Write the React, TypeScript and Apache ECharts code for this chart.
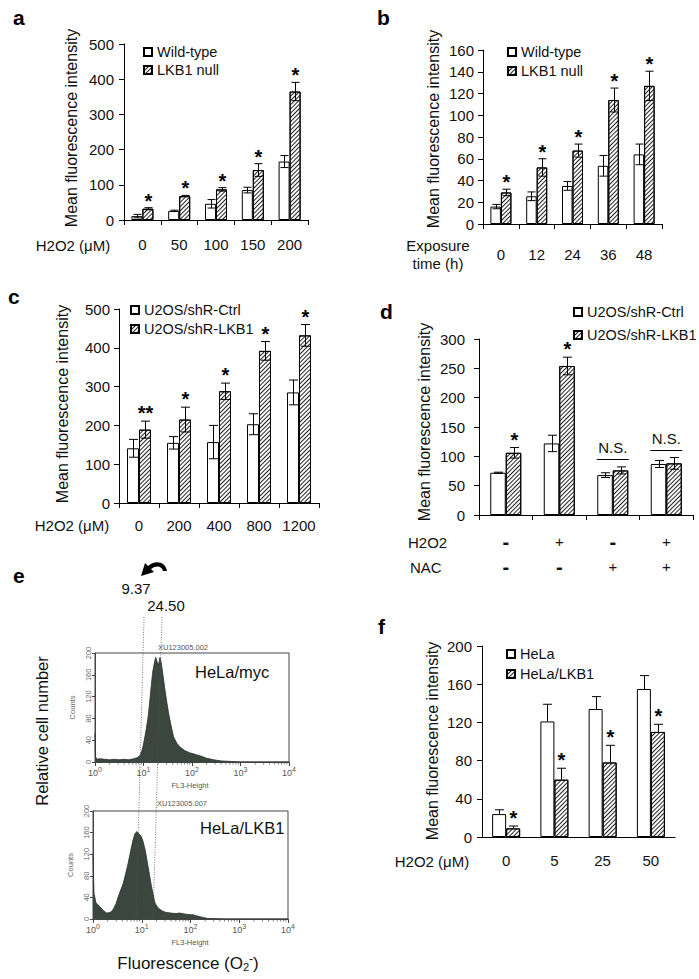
import React, { useEffect, useRef } from 'react';
import * as echarts from 'echarts';

const FONT = '"Liberation Sans", Arial, Helvetica, sans-serif';

// ---- Panel a ----
const aCats = ['0', '50', '100', '150', '200'];
const aWT = [11, 26, 46, 85, 166];
const aWTErr = [5, 2, 12, 8, 17];
const aKO = [32, 68, 87, 142, 365];
const aKOErr = [3, 2, 5, 18, 26];
const aSig = ['*', '*', '*', '*', '*'];

// ---- Panel b ----
const bCats = ['0', '12', '24', '36', '48'];
const bWT = [16, 25.5, 35, 53.5, 64];
const bWTErr = [2, 4, 4, 9.5, 9.5];
const bKO = [29, 52, 67.5, 114, 127];
const bKOErr = [3, 8, 6, 11, 13.5];
const bSig = ['*', '*', '*', '*', '*'];

// ---- Panel c ----
const cCats = ['0', '200', '400', '800', '1200'];
const cCtrl = [141, 155, 157, 203, 285];
const cCtrlErr = [23, 16, 43, 27, 32];
const cKD = [189, 215, 288, 392, 432];
const cKDErr = [22, 32, 21, 24, 28];
const cSig = ['**', '*', '*', '*', '*'];

// ---- Panel d ----
const dH2O2 = ['-', '+', '-', '+'];
const dNAC = ['-', '-', '+', '+'];
const dCtrl = [72, 122, 68, 87];
const dCtrlErr = [1, 14, 4, 6];
const dKD = [106, 254, 76, 88];
const dKDErr = [9, 15, 6, 10];
const dSig = ['*', '*', 'N.S.', 'N.S.'];

// ---- Panel f ----
const fCats = ['0', '5', '25', '50'];
const fHeLa = [24, 121, 134, 155];
const fHeLaErr = [4.5, 18, 13, 14];
const fLKB1 = [9, 60, 78, 110];
const fLKB1Err = [2.5, 12, 18, 8];
const fSig = ['*', '*', '*', '*'];

// ---- Panel e (flow histograms, x in log10 units) ----
const mycLog = [0, 0.01, 0.04, 0.1, 0.2, 0.3, 0.4, 0.5, 0.6, 0.7, 0.8, 0.87, 0.93, 0.98, 1.02, 1.06, 1.1, 1.13, 1.16, 1.19, 1.22, 1.25, 1.28, 1.31, 1.34, 1.37, 1.4, 1.44, 1.48, 1.52, 1.57, 1.62, 1.69, 1.76, 1.85, 1.95, 2.03, 2.1, 2.18, 2.3, 2.45, 2.6, 2.8, 3.0, 3.5, 4.0];
const mycCounts = [52, 10, 5, 6, 5, 4, 5, 4, 5, 4, 6, 8, 12, 24, 42, 62, 86, 112, 140, 165, 180, 192, 184, 178, 192, 180, 160, 134, 110, 88, 66, 46, 34, 27, 21, 17, 15, 13, 11, 7, 4, 2, 1, 0, 0, 0];
const lkbLog = [0, 0.02, 0.06, 0.14, 0.22, 0.28, 0.35, 0.41, 0.47, 0.52, 0.57, 0.62, 0.67, 0.72, 0.77, 0.82, 0.86, 0.9, 0.94, 0.98, 1.02, 1.07, 1.13, 1.2, 1.27, 1.32, 1.37, 1.44, 1.51, 1.6, 1.7, 1.78, 1.9, 2.0, 2.05, 2.12, 2.2, 2.26, 2.35, 2.5, 2.7, 3.0, 3.5, 4.0];
const lkbCounts = [119, 48, 30, 23, 15, 11, 12, 17, 28, 42, 54, 66, 84, 103, 125, 146, 158, 162, 158, 154, 146, 128, 97, 60, 30, 22, 18, 14, 12, 11, 10, 11, 9, 8, 8, 6, 4, 3, 1, 0.5, 0, 0, 0, 0];
const mfiLabels = ['9.37', '24.50'];
const histTicks = [0, 1, 2, 3, 4];
const minorMult = [2, 3, 4, 5, 6, 7, 8, 9];

echarts.graphic.registerShape(
  'curvedArrow',
  echarts.graphic.extendPath('M 28 10 C 27 1, 16 -2, 9 5 L 6 2 L 2 15 L 15 11 L 12 8 C 17 4, 23 5, 24 10 Z', {})
);

const HATCH: any = {
  symbol: 'rect',
  symbolSize: 1,
  dashArrayX: [1, 0],
  dashArrayY: [0.8, 2.0],
  rotation: -Math.PI / 4,
  color: '#222',
};

const whiteStyle = { color: '#fff', borderColor: '#000', borderWidth: 1 };
const hatchStyle = { color: '#fff', borderColor: '#000', borderWidth: 1, decal: HATCH };

function yAxisBar(gi: number, max: number, interval: number, margin: number) {
  return {
    type: 'value', gridIndex: gi, min: 0, max, interval,
    axisLine: { show: true, lineStyle: { color: '#000', width: 1 } },
    axisTick: { show: true, length: 5, lineStyle: { color: '#000' } },
    splitLine: { show: false },
    axisLabel: { fontSize: 15, color: '#111', margin, fontFamily: FONT },
  };
}

function xAxisBar(gi: number, cats: string[], margin: number, ticks: boolean) {
  return {
    type: 'category', gridIndex: gi, data: cats,
    axisLine: { show: true, lineStyle: { color: '#000', width: 1 } },
    axisTick: { show: ticks, length: 5, interval: 0, lineStyle: { color: '#000' } },
    axisLabel: { fontSize: 15, color: '#111', margin, interval: 0, fontFamily: FONT },
  };
}

function errBars(idx: number, vals: number[], errs: number[], side: number, barW: number, capW: number, upOnly: boolean, sig: string[] | null, starGap: number) {
  return {
    type: 'custom', xAxisIndex: idx, yAxisIndex: idx, z: 5, silent: true, clip: false,
    data: vals.map((v, i) => [i, v, errs[i]]),
    renderItem: (params: any, api: any) => {
      const i = api.value(0);
      const v = api.value(1);
      const e = api.value(2);
      const c = api.coord([i, v]);
      const t = api.coord([i, v + e]);
      const b = api.coord([i, upOnly ? v : v - e]);
      const x = Math.round(c[0] + (side * barW) / 2) + 0.5;
      const st = { stroke: '#000', lineWidth: 1 };
      const children: any[] = [
        { type: 'line', shape: { x1: x, y1: t[1], x2: x, y2: b[1] }, style: st },
        { type: 'line', shape: { x1: x - capW / 2, y1: t[1], x2: x + capW / 2, y2: t[1] }, style: st },
      ];
      if (!upOnly) children.push({ type: 'line', shape: { x1: x - capW / 2, y1: b[1], x2: x + capW / 2, y2: b[1] }, style: st });
      if (sig && sig[i] && sig[i] !== 'N.S.') {
        children.push({
          type: 'text', x, y: t[1] - starGap,
          style: { text: sig[i], fontSize: 20, fontWeight: 'bold', fill: '#000', align: 'center', verticalAlign: 'middle', fontFamily: FONT },
        });
      }
      return { type: 'group', children };
    },
  };
}

function nsSeries() {
  return {
    type: 'custom', xAxisIndex: 3, yAxisIndex: 3, z: 6, silent: true, clip: false,
    data: dSig.map((s, i) => [i, Math.max(dCtrl[i] + dCtrlErr[i], dKD[i] + dKDErr[i])]),
    renderItem: (params: any, api: any) => {
      const i = api.value(0);
      const top = api.value(1);
      const c = api.coord([i, top]);
      if (dSig[i] !== 'N.S.') return { type: 'group', children: [] };
      const ly = Math.round(c[1] - 8) + 0.5;
      return {
        type: 'group',
        children: [
          { type: 'line', shape: { x1: c[0] - 16, y1: ly, x2: c[0] + 16, y2: ly }, style: { stroke: '#000', lineWidth: 1 } },
          { type: 'text', x: c[0], y: ly - 12, style: { text: dSig[i], fontSize: 15, fill: '#111', align: 'center', verticalAlign: 'middle', fontFamily: FONT } },
        ],
      };
    },
  };
}

function histX(gi: number) {
  return {
    type: 'value', gridIndex: gi, min: 0, max: 4, interval: 1,
    axisLine: { show: true, onZero: false, lineStyle: { color: '#444', width: 1 } },
    axisTick: { show: true, length: 4, lineStyle: { color: '#444' } },
    splitLine: { show: false },
    axisLabel: {
      margin: 4, fontSize: 9, color: '#555', fontFamily: FONT,
      formatter: (v: number) => `10{s|${v}}`,
      rich: { s: { fontSize: 7, color: '#555', padding: [0, 0, 7, 0] } },
    },
  };
}

function histY(gi: number) {
  return {
    type: 'value', gridIndex: gi, min: 0, max: 200, interval: 40,
    axisLine: { show: true, lineStyle: { color: '#444', width: 1 } },
    axisTick: { show: true, length: 3, lineStyle: { color: '#444' } },
    splitLine: { show: false },
    axisLabel: { rotate: 90, fontSize: 7.5, color: '#666', margin: 3, fontFamily: FONT },
    name: 'Counts', nameLocation: 'middle', nameGap: 19, nameRotate: 90,
    nameTextStyle: { fontSize: 7.5, color: '#666', fontFamily: FONT },
  };
}

function histSeries(gi: number, xs: number[], ys: number[]) {
  return {
    type: 'line', xAxisIndex: gi, yAxisIndex: gi, symbol: 'none', silent: true,
    data: xs.map((x, i) => [x, ys[i]]),
    lineStyle: { color: '#27302b', width: 0.8 },
    areaStyle: { color: '#3b463f', opacity: 1 },
  };
}

function minorTicks(gi: number) {
  const pts: number[][] = [];
  histTicks.slice(0, 4).forEach((d) => minorMult.forEach((m) => pts.push([d + Math.log10(m), 0])));
  return {
    type: 'custom', xAxisIndex: gi, yAxisIndex: gi, silent: true, clip: false, z: 4,
    data: pts,
    renderItem: (params: any, api: any) => {
      const p = api.coord([api.value(0), 0]);
      return { type: 'line', shape: { x1: p[0], y1: p[1], x2: p[0], y2: p[1] + 2.5 }, style: { stroke: '#444', lineWidth: 0.7 } };
    },
  };
}

function txt(text: string, x: number, y: number, opts: any = {}) {
  return {
    type: 'text', x, y, rotation: opts.rotation || 0, z: 10,
    style: {
      text, fontSize: opts.fontSize || 15, fontWeight: opts.fontWeight || 'normal',
      fill: opts.fill || '#111', align: opts.align || 'center', verticalAlign: 'middle', fontFamily: FONT,
      rich: opts.rich,
    },
  };
}

const letter = (t: string, x: number, y: number) => txt(t, x, y, { fontSize: 21, fontWeight: 'bold', align: 'left', fill: '#000' });
const yTitle = (x: number, y: number) => txt('Mean fluorescence intensity', x, y, { fontSize: 16, rotation: Math.PI / 2 });

function legendCfg(names: string[], left: number, top: number, gap: number) {
  return {
    left, top, orient: 'vertical', data: names, padding: 0,
    itemWidth: 8, itemHeight: 8, itemGap: gap, icon: 'rect', selectedMode: false,
    textStyle: { fontSize: 14.5, lineHeight: 15, color: '#111', fontFamily: FONT },
  };
}

export default function App() {
  const ref = useRef<HTMLDivElement>(null);
  useEffect(() => {
    if (!ref.current) return;
    const chart = echarts.init(ref.current, null, { renderer: 'svg' });
    const option: any = {
      animation: false,
      backgroundColor: '#fff',
      textStyle: { fontFamily: FONT },
      grid: [
        { left: 124, top: 44, width: 184, height: 176 },
        { left: 483, top: 50, width: 179, height: 174 },
        { left: 119, top: 309, width: 200, height: 194 },
        { left: 479, top: 339, width: 214, height: 176 },
        { left: 482, top: 646, width: 193, height: 191 },
        { left: 95, top: 653, width: 194, height: 109, show: true, borderColor: '#444', borderWidth: 1 },
        { left: 93, top: 811, width: 195, height: 108, show: true, borderColor: '#444', borderWidth: 1 },
      ],
      xAxis: [
        xAxisBar(0, aCats, 17, true),
        xAxisBar(1, bCats, 23, true),
        xAxisBar(2, cCats, 15, true),
        {
          ...xAxisBar(3, dH2O2.map((h, i) => h + '/' + dNAC[i]), 14, true),
          axisLabel: {
            margin: 14, interval: 0, fontFamily: FONT, color: '#111',
            formatter: (v: string, i: number) => {
              const f = (s: string) => (s === '-' ? `{m|${s}}` : `{p|${s}}`);
              return f(dH2O2[i]) + '\n' + f(dNAC[i]);
            },
            rich: {
              m: { fontSize: 20, fontWeight: 'bold', lineHeight: 25, color: '#111' },
              p: { fontSize: 15, lineHeight: 25, color: '#111' },
            },
          },
        },
        xAxisBar(4, fCats, 16, false),
        histX(5),
        histX(6),
      ],
      yAxis: [
        yAxisBar(0, 500, 100, 10),
        yAxisBar(1, 160, 20, 9),
        yAxisBar(2, 500, 100, 9),
        yAxisBar(3, 300, 50, 14),
        yAxisBar(4, 200, 40, 10),
        histY(5),
        histY(6),
      ],
      legend: [
        legendCfg(['Wild-type', 'LKB1 null'], 143, 44.5, 3),
        legendCfg(['Wild-type', 'LKB1 null'], 507, 44.5, 4),
        legendCfg(['U2OS/shR-Ctrl', 'U2OS/shR-LKB1'], 130, 302.5, 4),
        legendCfg(['U2OS/shR-Ctrl', 'U2OS/shR-LKB1'], 573, 304.5, 8),
        legendCfg(['HeLa', 'HeLa/LKB1'], 506, 646.5, 5),
      ],
      series: [
        // a
        { type: 'bar', name: 'Wild-type', xAxisIndex: 0, yAxisIndex: 0, data: aWT, barWidth: 11, barGap: '0%', itemStyle: whiteStyle },
        { type: 'bar', name: 'LKB1 null', xAxisIndex: 0, yAxisIndex: 0, data: aKO, barWidth: 11, barGap: '0%', itemStyle: hatchStyle },
        errBars(0, aWT, aWTErr, -1, 11, 8, false, null, 0),
        errBars(0, aKO, aKOErr, 1, 11, 8, false, aSig, 7),
        // b
        { type: 'bar', name: 'Wild-type', xAxisIndex: 1, yAxisIndex: 1, data: bWT, barWidth: 10.5, barGap: '0%', itemStyle: whiteStyle },
        { type: 'bar', name: 'LKB1 null', xAxisIndex: 1, yAxisIndex: 1, data: bKO, barWidth: 10.5, barGap: '0%', itemStyle: hatchStyle },
        errBars(1, bWT, bWTErr, -1, 10.5, 8, false, null, 0),
        errBars(1, bKO, bKOErr, 1, 10.5, 8, false, bSig, 7),
        // c
        { type: 'bar', name: 'U2OS/shR-Ctrl', xAxisIndex: 2, yAxisIndex: 2, data: cCtrl, barWidth: 12, barGap: '0%', itemStyle: whiteStyle },
        { type: 'bar', name: 'U2OS/shR-LKB1', xAxisIndex: 2, yAxisIndex: 2, data: cKD, barWidth: 12, barGap: '0%', itemStyle: hatchStyle },
        errBars(2, cCtrl, cCtrlErr, -1, 12, 9, false, null, 0),
        errBars(2, cKD, cKDErr, 1, 12, 9, false, cSig, 8),
        // d
        { type: 'bar', name: 'U2OS/shR-Ctrl', xAxisIndex: 3, yAxisIndex: 3, data: dCtrl, barWidth: 15.5, barGap: '0%', itemStyle: whiteStyle },
        { type: 'bar', name: 'U2OS/shR-LKB1', xAxisIndex: 3, yAxisIndex: 3, data: dKD, barWidth: 15.5, barGap: '0%', itemStyle: hatchStyle },
        errBars(3, dCtrl, dCtrlErr, -1, 15.5, 9, false, null, 0),
        errBars(3, dKD, dKDErr, 1, 15.5, 9, false, dSig, 8),
        nsSeries(),
        // f
        { type: 'bar', name: 'HeLa', xAxisIndex: 4, yAxisIndex: 4, data: fHeLa, barWidth: 14, barGap: '0%', itemStyle: whiteStyle },
        { type: 'bar', name: 'HeLa/LKB1', xAxisIndex: 4, yAxisIndex: 4, data: fLKB1, barWidth: 14, barGap: '0%', itemStyle: hatchStyle },
        errBars(4, fHeLa, fHeLaErr, -1, 14, 9, true, null, 0),
        errBars(4, fLKB1, fLKB1Err, 1, 14, 9, true, fSig, 8),
        // e
        histSeries(5, mycLog, mycCounts),
        histSeries(6, lkbLog, lkbCounts),
        minorTicks(5),
        minorTicks(6),
      ],
      graphic: [
        letter('a', 13, 17),
        letter('b', 377, 17),
        letter('c', 8, 296),
        letter('d', 380, 311),
        letter('e', 13, 575),
        letter('f', 378, 626),
        yTitle(71, 128),
        yTitle(433, 129),
        yTitle(62, 404),
        yTitle(424, 422),
        yTitle(432, 741),
        txt('H2O2 (μM)', 73, 245),
        txt('Exposure', 438, 245),
        txt('time (h)', 438, 263),
        txt('H2O2 (μM)', 72, 525),
        txt('H2O2', 408, 542, { align: 'left' }),
        txt('NAC', 410, 567, { align: 'left' }),
        txt('H2O2 (μM)', 432, 861),
        // panel e
        { type: 'curvedArrow', x: 139, y: 561, z: 10, style: { fill: '#000' } },
        txt(mfiLabels[0], 136, 588, { fontSize: 15 }),
        txt(mfiLabels[1], 166, 605, { fontSize: 15 }),
        { type: 'line', z: 12, shape: { x1: 144, y1: 617, x2: 136, y2: 918 }, style: { stroke: '#555', lineWidth: 0.8, lineDash: [1, 1.5] } },
        { type: 'line', z: 12, shape: { x1: 162, y1: 617, x2: 153, y2: 918 }, style: { stroke: '#555', lineWidth: 0.8, lineDash: [1, 1.5] } },
        txt('XU123005.002', 183, 647, { fontSize: 7.5, fill: '#555' }),
        txt('HeLa/myc', 195, 672, { fontSize: 16.5, align: 'left' }),
        txt('FL3-Height', 190, 785, { fontSize: 7.5, fill: '#555' }),
        txt('XU123005.007', 182, 803, { fontSize: 7.5, fill: '#555' }),
        txt('HeLa/LKB1', 200, 828, { fontSize: 16.5, align: 'left' }),
        txt('FL3-Height', 190, 942, { fontSize: 7.5, fill: '#555' }),
        txt('Relative cell number', 42, 731, { fontSize: 16.5, rotation: Math.PI / 2 }),
        txt('Fluorescence (O{sub|2}{sup|-})', 188, 963, {
          fontSize: 17,
          rich: {
            sub: { fontSize: 11, padding: [8, 0, 0, 0], fill: '#111', fontFamily: FONT },
            sup: { fontSize: 12, padding: [0, 0, 8, 0], fill: '#111', fontFamily: FONT },
          },
        }),
      ],
    };
    chart.setOption(option);
    return () => chart.dispose();
  }, []);
  return <div ref={ref} style={{ position: 'absolute', left: 0, top: 0, width: 699, height: 979, background: '#fff' }} />;
}
